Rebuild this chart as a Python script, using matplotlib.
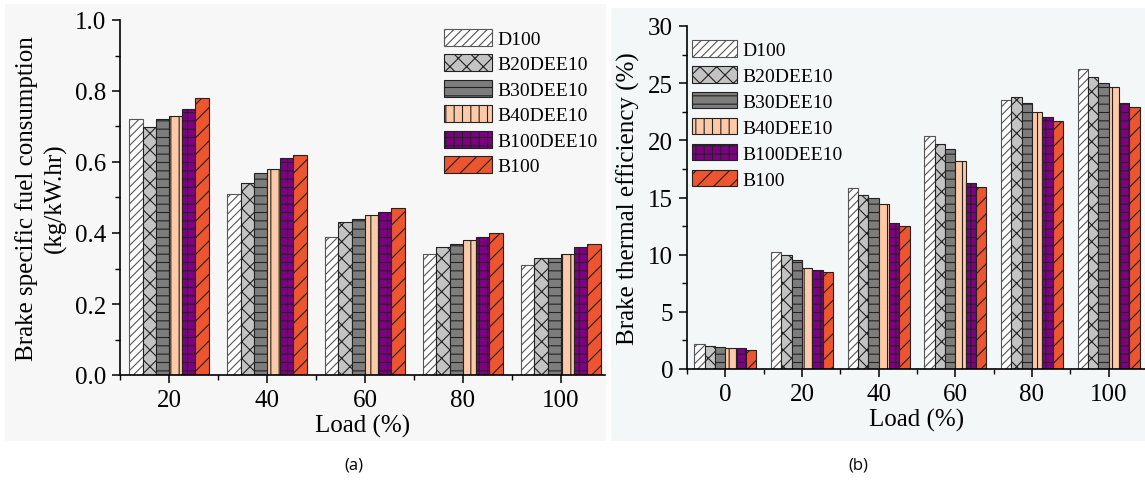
import numpy as np
import matplotlib as mpl
mpl.use('Agg')
import matplotlib.pyplot as plt
from matplotlib.patches import Rectangle
from matplotlib.ticker import MultipleLocator

mpl.rcParams['font.family'] = 'Liberation Serif'
mpl.rcParams['hatch.linewidth'] = 0.8

# data
fuels = ['D100', 'B20DEE10', 'B30DEE10', 'B40DEE10', 'B100DEE10', 'B100']
load_a = [20, 40, 60, 80, 100]
bsfc = {
    'D100':      [0.72, 0.51, 0.39, 0.34, 0.31],
    'B20DEE10':  [0.70, 0.54, 0.43, 0.36, 0.33],
    'B30DEE10':  [0.72, 0.57, 0.44, 0.37, 0.33],
    'B40DEE10':  [0.73, 0.58, 0.45, 0.38, 0.34],
    'B100DEE10': [0.75, 0.61, 0.46, 0.39, 0.36],
    'B100':      [0.78, 0.62, 0.47, 0.40, 0.37],
}
load_b = [0, 20, 40, 60, 80, 100]
bte = {
    'D100':      [2.2, 10.2, 15.8, 20.4, 23.5, 26.2],
    'B20DEE10':  [2.0, 10.0, 15.2, 19.7, 23.8, 25.5],
    'B30DEE10':  [1.95, 9.5, 15.0, 19.2, 23.3, 25.0],
    'B40DEE10':  [1.85, 8.8, 14.4, 18.2, 22.5, 24.7],
    'B100DEE10': [1.8, 8.7, 12.8, 16.3, 22.0, 23.3],
    'B100':      [1.7, 8.5, 12.5, 15.9, 21.7, 22.9],
}

faces = ['white', '#c3c3c3', '#7d7d7d', '#fdc9a6', '#7e0082', '#ec5530']
edges = ['#555555', '#222222', '#222222', '#222222', '#222222', '#222222']
hatches = ['////', 'xx', '--', '||', '++', '//']

W, H = 1145, 481
fig = plt.figure(figsize=(W/100, H/100), dpi=100)

# faint panel backgrounds
fig.patches.append(Rectangle((5/W, 1-442/H), 601/W, 437/H, transform=fig.transFigure,
                             facecolor='#f7f7f7', edgecolor='none', zorder=-10))
fig.patches.append(Rectangle((611/W, 1-442/H), 534/W, 433/H, transform=fig.transFigure,
                             facecolor='#f3f7f7', edgecolor='none', zorder=-10))

bw = 2.7


def draw(ax, loads, data):
    x = np.array(loads, dtype=float)
    for i, f in enumerate(fuels):
        ax.bar(x + (i - 2.5) * bw, data[f], width=bw, color=faces[i], edgecolor=edges[i],
               hatch=hatches[i], linewidth=0.8, label=f)
    ax.set_facecolor('none')
    for s in ['top', 'right']:
        ax.spines[s].set_visible(False)
    for s in ['left', 'bottom']:
        ax.spines[s].set_linewidth(1.2)
    ax.tick_params(which='major', direction='out', length=6, width=1.1, labelsize=18, pad=4)
    ax.tick_params(which='minor', direction='out', length=3.5, width=1.0)
    ax.set_xticks(loads)
    ax.set_xticks([l + 10 for l in loads[:-1]] + [loads[0] - 10], minor=True)
    ax.set_xlabel('Load (%)', fontsize=18, labelpad=2)


# panel (a)
ax1 = fig.add_axes([120/W, 1-376/H, 485/W, 355/H])
draw(ax1, load_a, bsfc)
ax1.set_xlim(10, 109)
ax1.set_ylim(0, 1.0)
ax1.yaxis.set_major_locator(MultipleLocator(0.2))
ax1.yaxis.set_minor_locator(MultipleLocator(0.1))
ax1.yaxis.set_major_formatter(mpl.ticker.FormatStrFormatter('%.1f'))
ax1.set_ylabel('Brake specific fuel consumption\n(kg/kW.hr)', fontsize=18, linespacing=1.3, labelpad=6)
ax1.legend(loc='upper left', bbox_to_anchor=(0.668, 0.975), frameon=False, fontsize=14,
           handlelength=2.45, handleheight=0.95, labelspacing=0.33, handletextpad=0.3,
           borderpad=0, borderaxespad=0)

# panel (b)
ax2 = fig.add_axes([687/W, 1-370/H, 460/W, 343/H])
draw(ax2, load_b, bte)
ax2.set_xlim(-10, 110)
ax2.set_ylim(0, 30)
ax2.yaxis.set_major_locator(MultipleLocator(5))
ax2.yaxis.set_minor_locator(MultipleLocator(2.5))
ax2.set_ylabel('Brake thermal efficiency (%)', fontsize=18, labelpad=6)
ax2.legend(loc='upper left', bbox_to_anchor=(0.011, 0.958), frameon=False, fontsize=14,
           handlelength=2.3, handleheight=0.9, labelspacing=0.37, handletextpad=0.3,
           borderpad=0, borderaxespad=0)

fig.text(354/W, 1-466/H, '(a)', fontsize=12, family='Open Sans', ha='center', va='center')
fig.text(858/W, 1-466/H, '(b)', fontsize=12, family='Open Sans', ha='center', va='center')

fig.savefig('out.png', dpi=100)
